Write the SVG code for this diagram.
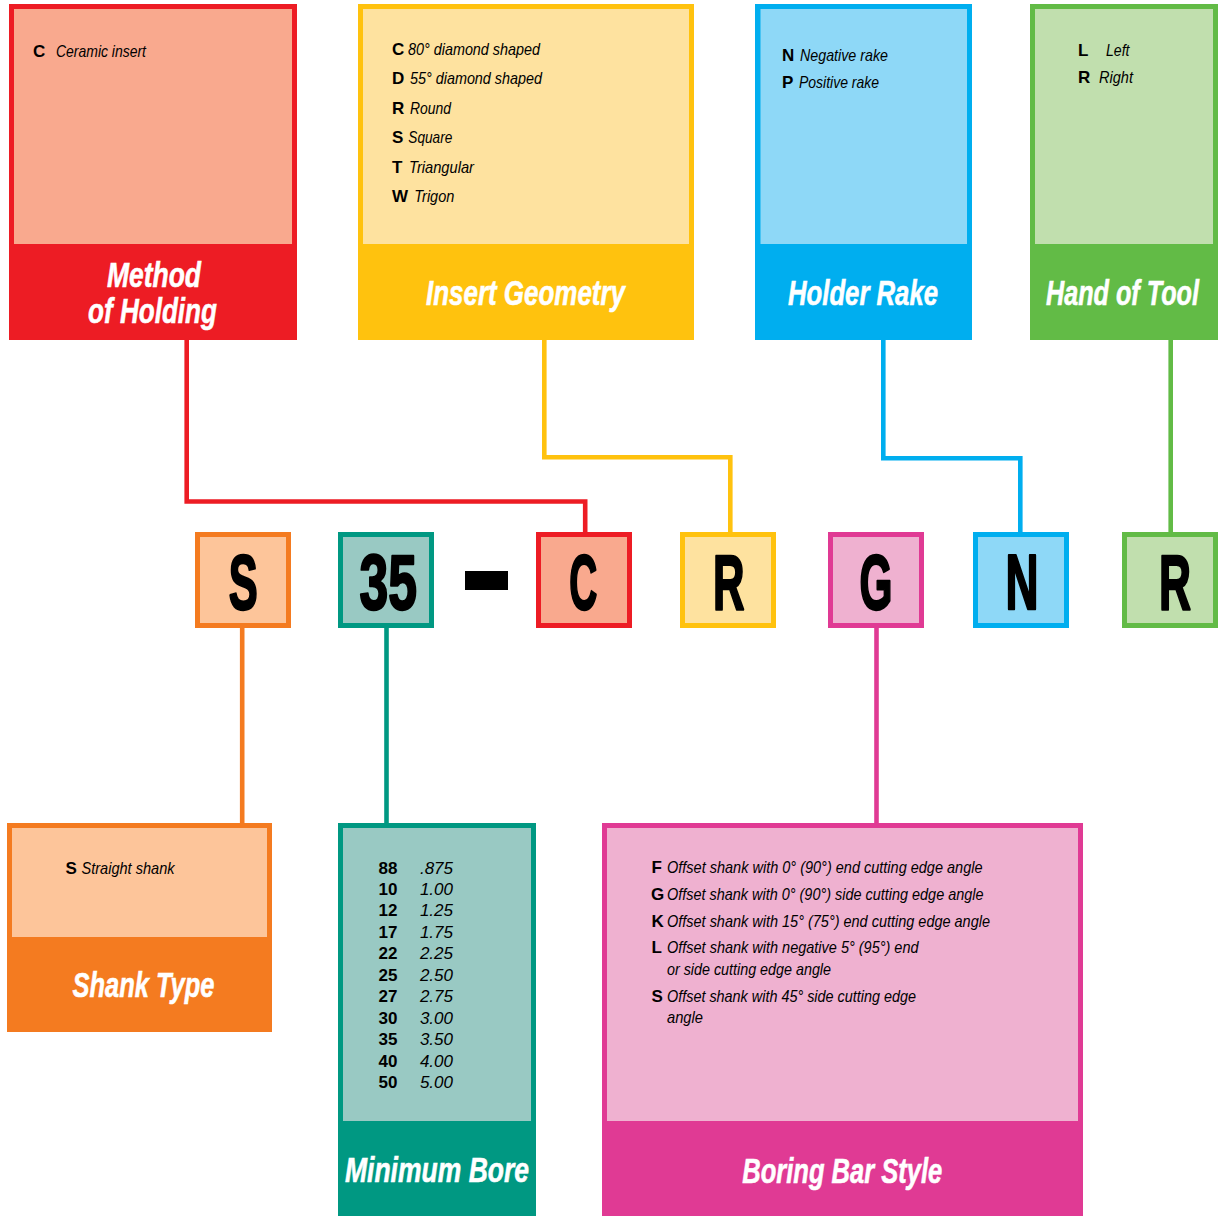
<svg xmlns="http://www.w3.org/2000/svg" width="1221" height="1216" viewBox="0 0 1221 1216">
<style>
text{font-family:"Liberation Sans",Arial,sans-serif;}
.t{font-size:35px;font-weight:bold;font-style:italic;fill:#fff;stroke:#fff;stroke-width:0.6;}
.c{font-size:17px;font-weight:bold;fill:#000;}
.d{font-size:17px;font-style:italic;fill:#000;}
.big{font-size:77px;font-weight:bold;fill:#000;stroke:#000;stroke-width:2.4;stroke-linejoin:round;text-anchor:middle;}
.ln{fill:none;stroke-width:4.6;stroke-linejoin:miter;stroke-linecap:butt;}
.mb{stroke-width:5;}
</style>
<rect width="1221" height="1216" fill="#fff"/>
<g id="connectors">
<path class="ln" stroke="#ED1C24" d="M186.7 338 V501.5 H585.2 V533"/>
<path class="ln" stroke="#FFC20E" d="M544.3 338 V457.3 H730.3 V533"/>
<path class="ln" stroke="#00AEEF" d="M883.3 338 V458.3 H1020.3 V533"/>
<path class="ln" stroke="#62BB46" d="M1170.7 338 V533"/>
<path class="ln" stroke="#F47B20" d="M242.2 627 V825"/>
<path class="ln" stroke="#009882" d="M386.5 627 V825"/>
<path class="ln" stroke="#E03A94" d="M876.5 627 V825"/>
</g>
<g id="method-of-holding">
<rect x="9" y="4" width="288" height="336" fill="#ED1C24"/>
<rect x="14" y="9" width="278" height="235" fill="#F9A98E"/>
<text class="c" x="33" y="57">C</text>
<text class="d" x="56" y="57" textLength="90" lengthAdjust="spacingAndGlyphs">Ceramic insert</text>
<text class="t" x="107" y="287" textLength="94" lengthAdjust="spacingAndGlyphs">Method</text>
<text class="t" x="88" y="323" textLength="129" lengthAdjust="spacingAndGlyphs">of Holding</text>
</g>
<g id="insert-geometry">
<rect x="358" y="4" width="336" height="336" fill="#FFC20E"/>
<rect x="363" y="9" width="326" height="235" fill="#FEE29F"/>
<text class="c" x="392" y="55">C</text>
<text class="d" x="408" y="55" textLength="132" lengthAdjust="spacingAndGlyphs">80° diamond shaped</text>
<text class="c" x="392" y="84.3">D</text>
<text class="d" x="410" y="84.3" textLength="132" lengthAdjust="spacingAndGlyphs">55° diamond shaped</text>
<text class="c" x="392" y="114.3">R</text>
<text class="d" x="410" y="114.3" textLength="41" lengthAdjust="spacingAndGlyphs">Round</text>
<text class="c" x="392" y="143.3">S</text>
<text class="d" x="408.3" y="143.3" textLength="44" lengthAdjust="spacingAndGlyphs">Square</text>
<text class="c" x="392" y="173.3">T</text>
<text class="d" x="409" y="173.3" textLength="65" lengthAdjust="spacingAndGlyphs">Triangular</text>
<text class="c" x="392" y="202.3">W</text>
<text class="d" x="414.3" y="202.3" textLength="40" lengthAdjust="spacingAndGlyphs">Trigon</text>
<text class="t" x="426" y="305" textLength="199" lengthAdjust="spacingAndGlyphs">Insert Geometry</text>
</g>
<g id="holder-rake">
<rect x="755" y="4" width="217" height="336" fill="#00AEEF"/>
<rect x="760.5" y="9" width="206.5" height="235" fill="#8ED8F7"/>
<text class="c" x="782" y="61">N</text>
<text class="d" x="800" y="61" textLength="88" lengthAdjust="spacingAndGlyphs">Negative rake</text>
<text class="c" x="782" y="88.3">P</text>
<text class="d" x="799" y="88.3" textLength="80" lengthAdjust="spacingAndGlyphs">Positive rake</text>
<text class="t" x="788" y="305" textLength="150" lengthAdjust="spacingAndGlyphs">Holder Rake</text>
</g>
<g id="hand-of-tool">
<rect x="1030" y="4" width="188" height="336" fill="#62BB46"/>
<rect x="1035" y="9" width="178" height="235" fill="#C1DFAE"/>
<text class="c" x="1078" y="56">L</text>
<text class="d" x="1106" y="56" textLength="23.5" lengthAdjust="spacingAndGlyphs">Left</text>
<text class="c" x="1078" y="83">R</text>
<text class="d" x="1099" y="83" textLength="34" lengthAdjust="spacingAndGlyphs">Right</text>
<text class="t" transform="translate(1046 305) scale(0.72 1)" x="0" y="0">Hand of Tool</text>
</g>
<g id="code-S">
<rect class="mb" x="197.5" y="534.5" width="91" height="91" fill="#FDC59A" stroke="#F47B20"/>
<text class="big" x="243.3" y="609" textLength="29" lengthAdjust="spacingAndGlyphs">S</text>
</g>
<g id="code-35">
<rect class="mb" x="340.5" y="534.5" width="91" height="91" fill="#99C9C3" stroke="#009882"/>
<text class="big" x="388.3" y="609" textLength="57.5" lengthAdjust="spacingAndGlyphs">35</text>
</g>
<g id="dash">
<rect x="465" y="571" width="43" height="19" fill="#000"/>
</g>
<g id="code-C">
<rect class="mb" x="538.5" y="534.5" width="91" height="91" fill="#F9A98E" stroke="#ED1C24"/>
<text class="big" x="583.3" y="609" textLength="28" lengthAdjust="spacingAndGlyphs">C</text>
</g>
<g id="code-R1">
<rect class="mb" x="682.5" y="534.5" width="91" height="91" fill="#FEE29F" stroke="#FFC20E"/>
<text class="big" x="728.8" y="609" textLength="31.5" lengthAdjust="spacingAndGlyphs">R</text>
</g>
<g id="code-G">
<rect class="mb" x="830.5" y="534.5" width="91" height="91" fill="#EFB1D0" stroke="#E03A94"/>
<text class="big" x="876" y="609" textLength="33" lengthAdjust="spacingAndGlyphs">G</text>
</g>
<g id="code-N">
<rect class="mb" x="975.5" y="534.5" width="91" height="91" fill="#8ED8F7" stroke="#00AEEF"/>
<text class="big" x="1022" y="609" textLength="33" lengthAdjust="spacingAndGlyphs">N</text>
</g>
<g id="code-R2">
<rect class="mb" x="1124.5" y="534.5" width="91" height="91" fill="#C1DFAE" stroke="#62BB46"/>
<text class="big" x="1175" y="609" textLength="32" lengthAdjust="spacingAndGlyphs">R</text>
</g>
<g id="shank-type">
<rect x="7" y="823" width="265" height="209" fill="#F47B20"/>
<rect x="12" y="828" width="255" height="109" fill="#FDC59A"/>
<text class="c" x="65.5" y="874">S</text>
<text class="d" x="81.5" y="874" textLength="93" lengthAdjust="spacingAndGlyphs">Straight shank</text>
<text class="t" x="72.5" y="997" textLength="142" lengthAdjust="spacingAndGlyphs">Shank Type</text>
</g>
<g id="minimum-bore">
<rect x="338" y="823" width="198" height="393" fill="#009882"/>
<rect x="343" y="828" width="188" height="293" fill="#99C9C3"/>
<g class="c">
<text x="378.5" y="873.5">88</text>
<text x="378.5" y="895">10</text>
<text x="378.5" y="916.4">12</text>
<text x="378.5" y="937.9">17</text>
<text x="378.5" y="959.3">22</text>
<text x="378.5" y="980.8">25</text>
<text x="378.5" y="1002.2">27</text>
<text x="378.5" y="1023.7">30</text>
<text x="378.5" y="1045.1">35</text>
<text x="378.5" y="1066.6">40</text>
<text x="378.5" y="1088">50</text>
</g>
<g class="d" text-anchor="end">
<text x="453" y="873.5">.875</text>
<text x="453" y="895">1.00</text>
<text x="453" y="916.4">1.25</text>
<text x="453" y="937.9">1.75</text>
<text x="453" y="959.3">2.25</text>
<text x="453" y="980.8">2.50</text>
<text x="453" y="1002.2">2.75</text>
<text x="453" y="1023.7">3.00</text>
<text x="453" y="1045.1">3.50</text>
<text x="453" y="1066.6">4.00</text>
<text x="453" y="1088">5.00</text>
</g>
<text class="t" x="345" y="1182" textLength="184" lengthAdjust="spacingAndGlyphs">Minimum Bore</text>
</g>
<g id="boring-bar-style">
<rect x="602" y="823" width="481" height="393" fill="#E03A94"/>
<rect x="607" y="828" width="471" height="293" fill="#EFB1D0"/>
<text class="c" x="651.5" y="873.3">F</text>
<text class="d" x="667" y="873.3" textLength="315.5" lengthAdjust="spacingAndGlyphs">Offset shank with 0° (90°) end cutting edge angle</text>
<text class="c" x="651" y="900">G</text>
<text class="d" x="667" y="900" textLength="316.5" lengthAdjust="spacingAndGlyphs">Offset shank with 0° (90°) side cutting edge angle</text>
<text class="c" x="651.5" y="926.7">K</text>
<text class="d" x="667" y="926.7" textLength="323" lengthAdjust="spacingAndGlyphs">Offset shank with 15° (75°) end cutting edge angle</text>
<text class="c" x="651.5" y="953.3">L</text>
<text class="d" x="667" y="953.3" textLength="251.5" lengthAdjust="spacingAndGlyphs">Offset shank with negative 5° (95°) end</text>
<text class="d" x="667" y="975" textLength="164" lengthAdjust="spacingAndGlyphs">or side cutting edge angle</text>
<text class="c" x="651.5" y="1001.7">S</text>
<text class="d" x="667" y="1001.7" textLength="249" lengthAdjust="spacingAndGlyphs">Offset shank with 45° side cutting edge</text>
<text class="d" x="667" y="1022.7" textLength="36" lengthAdjust="spacingAndGlyphs">angle</text>
<text class="t" x="742.3" y="1183" textLength="200" lengthAdjust="spacingAndGlyphs">Boring Bar Style</text>
</g>
</svg>
